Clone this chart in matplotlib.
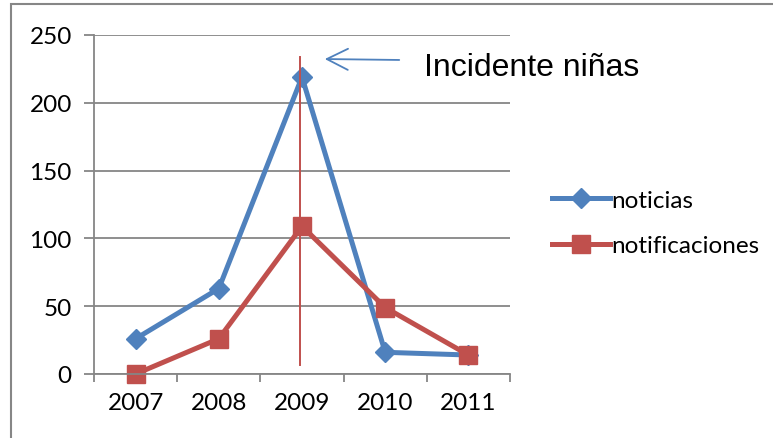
import matplotlib
matplotlib.use("Agg")
import matplotlib.pyplot as plt
from matplotlib.patches import Rectangle

anios = ["2007", "2008", "2009", "2010", "2011"]
noticias = [26, 63, 219, 16, 14]
notificaciones = [0, 26, 109, 49, 14]
marca_x = 1.98          # linea vertical del incidente
marca_y = [7, 234]
texto_incidente = "Incidente niñas"

azul = "#4F81BD"
rojo = "#C0504D"
gris = "#868686"

plt.rcParams["font.family"] = ["Lato", "DejaVu Sans"]

fig = plt.figure(figsize=(7.73, 4.39), dpi=100)
ax = fig.add_axes([94 / 773, 1 - 375 / 439, (510 - 94) / 773, (375 - 36) / 439])

x = list(range(len(anios)))
ax.plot(x, noticias, color=azul, lw=3.6, marker="D", ms=10, label="noticias", clip_on=False)
ax.plot(x, notificaciones, color=rojo, lw=3.6, marker="s", ms=13, label="notificaciones",
        clip_on=False)
ax.plot([marca_x, marca_x], marca_y, color=rojo, lw=1.4)

ax.set_xlim(-0.5, len(anios) - 0.5)
ax.set_ylim(0, 250)
ax.set_yticks(range(0, 251, 50))
ax.set_xticks(x)
ax.set_xticklabels(anios)
ax.set_xticks([i - 0.5 for i in range(len(anios) + 1)], minor=True)
ax.yaxis.grid(True, color=gris, lw=1.3)
ax.set_axisbelow(True)
for s in ["top", "right"]:
    ax.spines[s].set_visible(False)
for s in ["left", "bottom"]:
    ax.spines[s].set_color(gris)
    ax.spines[s].set_linewidth(1.3)
ax.tick_params(axis="x", which="major", length=0, labelsize=17.5, pad=13)
ax.tick_params(axis="x", which="minor", length=6, color=gris, width=1.3)
ax.tick_params(axis="y", length=7, color=gris, width=1.3, labelsize=17.5, pad=9)

ax.annotate("", xy=(322, 439 - 60), xytext=(402, 439 - 61), xycoords="figure pixels",
            textcoords="figure pixels",
            arrowprops=dict(arrowstyle="->", color=azul, lw=1.3, mutation_scale=38))
fig.text(424 / 773, 1 - 68 / 439, texto_incidente, fontsize=23, va="center", ha="left",
         family=["Liberation Sans", "DejaVu Sans"])

fig.legend(loc="center left", bbox_to_anchor=(530 / 773, 1 - 224 / 439), frameon=False,
           fontsize=17.5, handlelength=2.4, handletextpad=0.05, labelspacing=1.0)

fig.patches.append(Rectangle((11 / 773, -0.1), 1.2, 1 - 5 / 439 + 0.1, transform=fig.transFigure,
                             fill=False, ec=gris, lw=1.5))

fig.savefig("out.png", dpi=100)
